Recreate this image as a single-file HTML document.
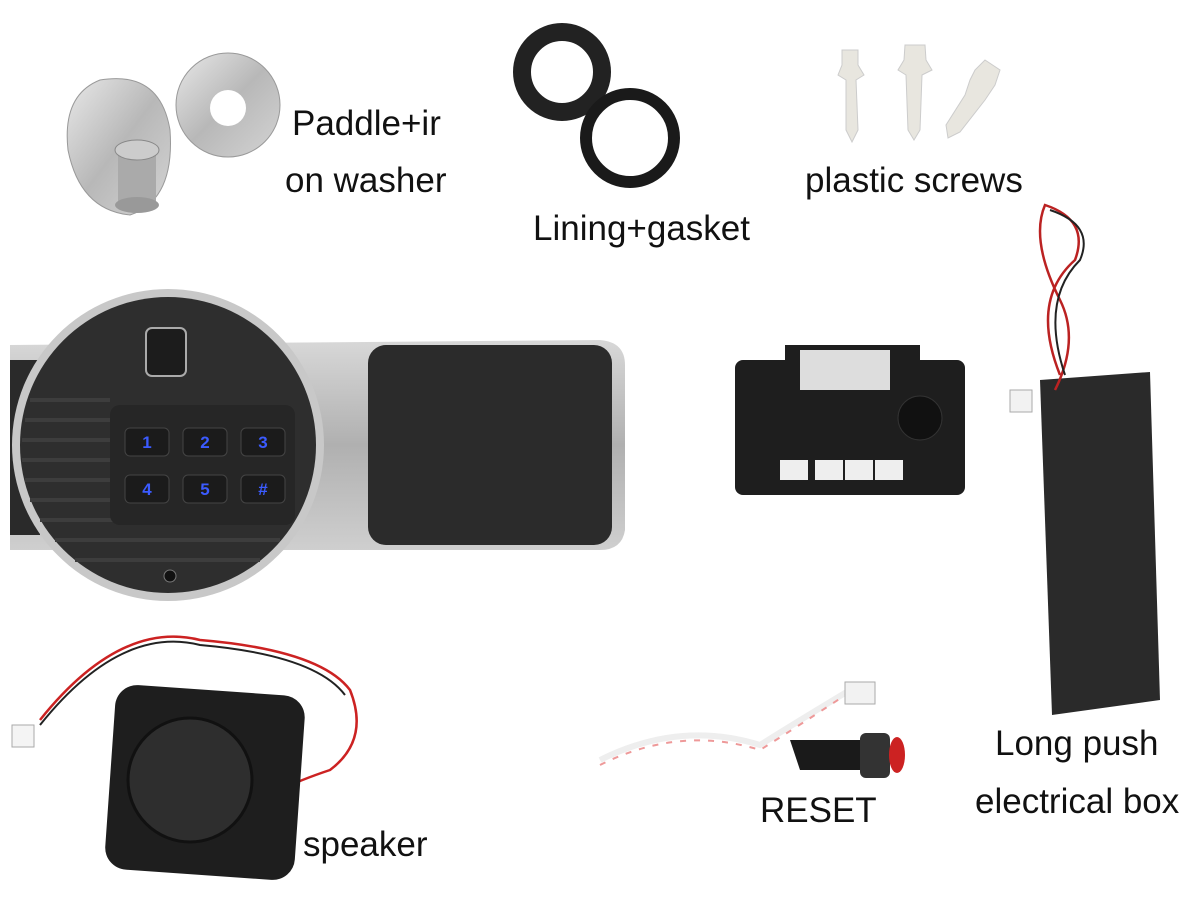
<!DOCTYPE html>
<html><head><meta charset="utf-8"><style>
html,body{margin:0;padding:0;background:#fff;}
#c{position:relative;width:1200px;height:900px;overflow:hidden;background:#fff;}
.t{position:absolute;font-family:"Liberation Sans",sans-serif;font-size:35px;color:#111;white-space:nowrap;line-height:1;}
</style></head><body><div id="c">
<svg width="1200" height="900" style="position:absolute;left:0;top:0">
<defs>
<linearGradient id="sil" x1="0" y1="0" x2="1" y2="1"><stop offset="0" stop-color="#e8e8e8"/><stop offset=".5" stop-color="#b8b8b8"/><stop offset="1" stop-color="#d4d4d4"/></linearGradient>
<linearGradient id="body" x1="0" y1="0" x2="0" y2="1"><stop offset="0" stop-color="#d8d8d8"/><stop offset=".5" stop-color="#b0b0b0"/><stop offset="1" stop-color="#cfcfcf"/></linearGradient>
</defs>
<path d="M100 80 Q160 70 170 130 Q175 200 130 215 Q80 210 68 150 Q62 95 100 80Z" fill="url(#sil)" stroke="#999"/>
<circle cx="228" cy="105" r="52" fill="url(#sil)" stroke="#999"/>
<circle cx="228" cy="108" r="18" fill="#fff"/>
<rect x="118" y="150" width="38" height="55" fill="#aaa"/>
<ellipse cx="137" cy="150" rx="22" ry="10" fill="#ccc" stroke="#888"/>
<ellipse cx="137" cy="205" rx="22" ry="8" fill="#999"/>
<circle cx="562" cy="72" r="40" fill="none" stroke="#222" stroke-width="18"/>
<circle cx="630" cy="138" r="44" fill="none" stroke="#1a1a1a" stroke-width="12"/>
<g fill="#e8e6df" stroke="#ccc">
<path d="M842 50 L858 50 L858 65 L864 75 L856 80 L858 130 L852 142 L846 130 L846 80 L838 75 L842 65Z"/>
<path d="M905 45 L925 45 L926 60 L932 70 L922 75 L920 130 L914 140 L908 130 L906 75 L898 70 L904 60Z"/>
<path d="M985 60 L1000 70 L995 85 L985 100 L960 132 L948 138 L946 125 L965 95 L970 80 L975 70Z"/>
</g>
<path d="M10 345 L600 340 Q625 342 625 365 L625 530 Q622 550 600 550 L10 550 Z" fill="url(#body)"/>
<rect x="10" y="360" width="30" height="175" fill="#2a2a2a"/>
<rect x="368" y="345" width="244" height="200" rx="18" fill="#2b2b2b"/>
<circle cx="168" cy="445" r="156" fill="#c8c8c8"/>
<circle cx="168" cy="445" r="148" fill="#2e2e2e"/>
<g stroke="#3d3d3d" stroke-width="4">
<line x1="30" y1="400" x2="110" y2="400"/><line x1="25" y1="420" x2="110" y2="420"/><line x1="22" y1="440" x2="110" y2="440"/><line x1="22" y1="460" x2="110" y2="460"/><line x1="25" y1="480" x2="110" y2="480"/><line x1="30" y1="500" x2="110" y2="500"/><line x1="40" y1="520" x2="290" y2="520"/><line x1="55" y1="540" x2="280" y2="540"/><line x1="75" y1="560" x2="260" y2="560"/>
</g>
<rect x="110" y="405" width="185" height="120" rx="10" fill="#262626"/>
<rect x="146" y="328" width="40" height="48" rx="6" fill="#1c1c1c" stroke="#aaa" stroke-width="2"/>
<g fill="#1b1b1b" stroke="#444">
<rect x="125" y="428" width="44" height="28" rx="5"/><rect x="183" y="428" width="44" height="28" rx="5"/><rect x="241" y="428" width="44" height="28" rx="5"/>
<rect x="125" y="475" width="44" height="28" rx="5"/><rect x="183" y="475" width="44" height="28" rx="5"/><rect x="241" y="475" width="44" height="28" rx="5"/>
</g>
<g fill="#3b5bff" font-family="Liberation Sans" font-size="17" font-weight="bold" text-anchor="middle">
<text x="147" y="448">1</text><text x="205" y="448">2</text><text x="263" y="448">3</text>
<text x="147" y="495">4</text><text x="205" y="495">5</text><text x="263" y="495">#</text>
</g>
<circle cx="170" cy="576" r="6" fill="#111" stroke="#777"/>
<rect x="735" y="360" width="230" height="135" rx="8" fill="#1e1e1e"/>
<rect x="785" y="345" width="135" height="30" fill="#1e1e1e"/>
<rect x="800" y="350" width="90" height="40" fill="#ddd"/>
<circle cx="920" cy="418" r="22" fill="#111" stroke="#333"/>
<g fill="#eee"><rect x="780" y="460" width="28" height="20"/><rect x="815" y="460" width="28" height="20"/><rect x="845" y="460" width="28" height="20"/><rect x="875" y="460" width="28" height="20"/></g>
<path d="M1040 380 L1150 372 L1160 700 L1052 715 Z" fill="#2a2a2a"/>
<path d="M1060 375 Q1030 300 1075 260 Q1090 220 1045 205 Q1030 240 1060 300 Q1080 340 1055 390" fill="none" stroke="#b22" stroke-width="2.5"/>
<path d="M1065 375 Q1040 300 1080 260 Q1095 225 1050 210" fill="none" stroke="#222" stroke-width="2"/>
<rect x="1010" y="390" width="22" height="22" fill="#f2f2f2" stroke="#aaa"/>
<path d="M40 720 Q120 620 200 640 Q320 650 350 690 Q370 740 330 770 Q300 780 280 790" fill="none" stroke="#c22" stroke-width="2.5"/>
<path d="M40 725 Q120 625 200 645 Q315 655 345 695" fill="none" stroke="#222" stroke-width="2"/>
<rect x="12" y="725" width="22" height="22" fill="#f4f4f4" stroke="#aaa"/>
<rect x="110" y="690" width="190" height="185" rx="22" fill="#1e1e1e" transform="rotate(4 205 782)"/>
<circle cx="190" cy="780" r="62" fill="#2e2e2e" stroke="#111" stroke-width="3"/>
<path d="M600 760 Q680 720 760 745 Q800 720 850 690" fill="none" stroke="#eee" stroke-width="6"/>
<path d="M600 765 Q680 725 760 750 Q800 725 850 692" fill="none" stroke="#e99" stroke-width="2" stroke-dasharray="6 8"/>
<rect x="845" y="682" width="30" height="22" fill="#f2f2f2" stroke="#aaa"/>
<path d="M790 740 L860 740 L870 770 L800 770Z" fill="#1a1a1a"/>
<rect x="860" y="733" width="30" height="45" rx="6" fill="#333"/>
<ellipse cx="897" cy="755" rx="8" ry="18" fill="#c22"/>
</svg>
<div class="t" style="left:292px;top:106px">Paddle+ir</div>
<div class="t" style="left:285px;top:163px">on washer</div>
<div class="t" style="left:533px;top:211px">Lining+gasket</div>
<div class="t" style="left:805px;top:163px">plastic screws</div>
<div class="t" style="left:995px;top:726px">Long push</div>
<div class="t" style="left:975px;top:784px">electrical box</div>
<div class="t" style="left:760px;top:793px">RESET</div>
<div class="t" style="left:303px;top:827px">speaker</div>
</div></body></html>
